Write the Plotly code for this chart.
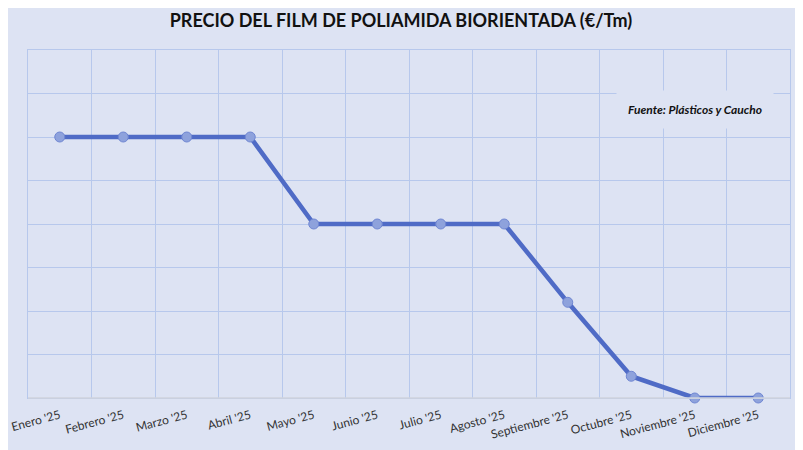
import plotly.graph_objects as go

months = ["Enero '25", "Febrero '25", "Marzo '25", "Abril '25", "Mayo '25", "Junio '25",
          "Julio '25", "Agosto '25", "Septiembre '25", "Octubre '25", "Noviembre '25", "Diciembre '25"]
precio = [3800, 3800, 3800, 3800, 3600, 3600, 3600, 3600, 3420, 3250, 3200, 3200]

BG = "#dde3f3"
GRID = "#b7c8ec"

L, T, PW, PH = 20, 42, 762, 348

fig = go.Figure()
fig.add_trace(go.Scatter(
    x=months, y=precio, mode="lines+markers",
    line=dict(color="#4f6bc6", width=4.5),
    marker=dict(size=10, color="#8ea2dc", line=dict(color="#6f86d2", width=1)),
    showlegend=False, cliponaxis=False,
))

fig.update_layout(
    width=803, height=450,
    paper_bgcolor=BG, plot_bgcolor=BG,
    margin=dict(l=L, r=803 - L - PW, t=T, b=450 - T - PH, autoexpand=False),
    title=dict(text="<b>PRECIO DEL FILM DE POLIAMIDA BIORIENTADA (€/Tm)</b>",
               xref="container", x=393 / 803, xanchor="center",
               yref="container", y=1 - 13 / 450, yanchor="middle",
               font=dict(family="Lato", size=18, color="#111111")),
    font=dict(family="Lato", size=12, color="#333333"),
    xaxis=dict(type="category", tickson="boundaries", showgrid=True, gridcolor=GRID,
               gridwidth=1, tickangle=-15, ticks="", showline=True, linecolor=GRID,
               mirror=True, automargin=False, ticklabelstandoff=5,
               range=[-0.5, 11.5], tickfont=dict(family="Lato", size=12, color="#333333"),
               fixedrange=True),
    yaxis=dict(range=[3200, 4000], dtick=100, showticklabels=False, showgrid=True,
               gridcolor=GRID, gridwidth=1, zeroline=False, ticks="", fixedrange=True,
               showline=True, linecolor=GRID, mirror=True, automargin=False),
    annotations=[dict(text="<b><i>Fuente: Plásticos y Caucho</i></b>", xref="paper", yref="paper",
                      x=(687 - L) / PW, y=(T + PH - 101) / PH, xanchor="center", yanchor="middle",
                      showarrow=False, bgcolor=BG, borderpad=11,
                      font=dict(family="Lato", size=12, color="#111111"))],
    shapes=[dict(type="line", xref="paper", yref="paper", x0=0, x1=1, y0=0, y1=0,
                 line=dict(color="#cfd3dd", width=1.5))],
)

fig.write_html("out.html")
